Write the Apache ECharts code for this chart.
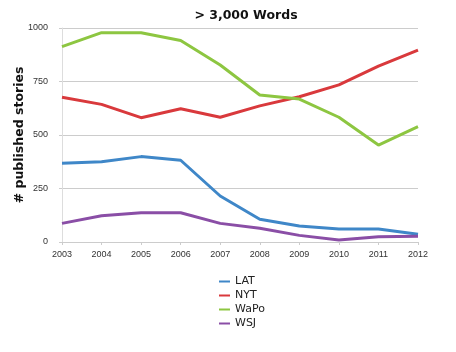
<!DOCTYPE html>
<html>
<head>
<meta charset="utf-8">
<script src="https://cdn.jsdelivr.net/npm/echarts@6/dist/echarts.min.js"></script>
<style>
  html, body { margin: 0; padding: 0; background: #fff; }
  #chart { width: 456px; height: 352px; }
</style>
</head>
<body>
<div id="chart"></div>
<script>
// data
var years = ['2003', '2004', '2005', '2006', '2007', '2008', '2009', '2010', '2011', '2012'];
var lat  = [368, 375, 399, 382, 215, 106, 75, 61, 61, 36];
var nyt  = [676, 643, 581, 623, 583, 636, 679, 734, 822, 897];
var wapo = [913, 978, 978, 942, 827, 687, 668, 583, 453, 539];
var wsj  = [87, 123, 137, 137, 87, 64, 31, 9, 25, 27];

var colors = ['#3f87c8', '#d9393c', '#8dc641', '#8a4ea6'];

var chart = echarts.init(document.getElementById('chart'));

function line(name, data) {
  return {
    name: name,
    type: 'line',
    data: data,
    symbol: 'none',
    lineStyle: { width: 3 }
  };
}

chart.setOption({
  animation: false,
  color: colors,
  title: {
    text: '> 3,000 Words',
    left: 241,
    textAlign: 'center',
    top: 4,
    textStyle: { fontSize: 12.5, fontWeight: 'bold', color: '#111', fontFamily: 'DejaVu Sans' }
  },
  legend: {
    orient: 'vertical',
    left: 214,
    top: 271,
    itemWidth: 11,
    itemHeight: 2,
    itemGap: 3,
    icon: 'rect',
    textStyle: { fontSize: 11, color: '#222', fontFamily: 'DejaVu Sans' },
    data: ['LAT', 'NYT', 'WaPo', 'WSJ']
  },
  grid: { left: 62, right: 38, top: 28, bottom: 110 },
  xAxis: {
    type: 'category',
    data: years,
    boundaryGap: false,
    axisLine: { lineStyle: { color: '#ccc' } },
    axisTick: { show: true, length: 3, lineStyle: { color: '#ccc' } },
    axisLabel: { fontSize: 9, color: '#333', margin: 8 },
    splitLine: { show: false }
  },
  yAxis: {
    type: 'value',
    min: 0,
    max: 1000,
    interval: 250,
    name: '# published stories',
    nameLocation: 'middle',
    nameGap: 36,
    nameMoveOverlap: false,
    nameTextStyle: { fontSize: 12.5, fontWeight: 'bold', color: '#111', fontFamily: 'DejaVu Sans' },
    axisLine: { show: true, lineStyle: { color: '#ddd' } },
    axisTick: { show: true, length: 3, lineStyle: { color: '#ccc' } },
    axisLabel: { fontSize: 9, color: '#333', margin: 14, formatter: function (v) { return String(v); } },
    splitLine: { lineStyle: { color: '#ccc' } }
  },
  series: [
    line('LAT', lat),
    line('NYT', nyt),
    line('WaPo', wapo),
    line('WSJ', wsj)
  ]
});
</script>
</body>
</html>
